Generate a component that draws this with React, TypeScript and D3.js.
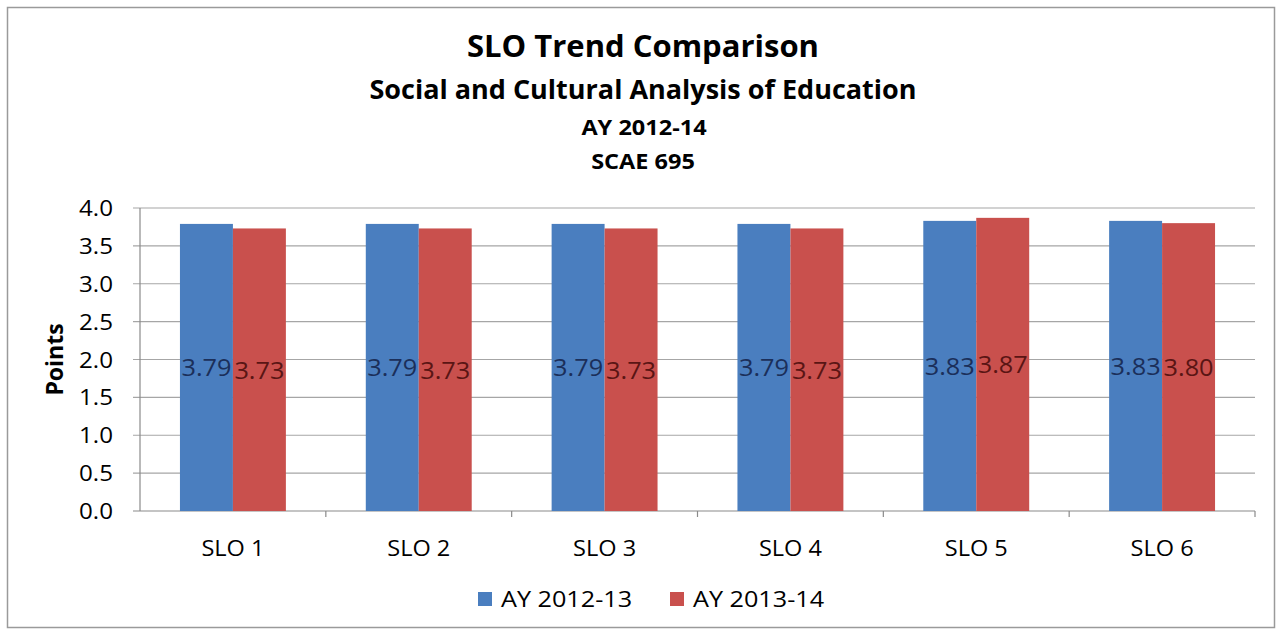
import React from 'react';
import * as d3 from 'd3';

const categories = ['SLO 1', 'SLO 2', 'SLO 3', 'SLO 4', 'SLO 5', 'SLO 6'];
const seriesNames = ['AY 2012-13', 'AY 2013-14'];
const values2012 = [3.79, 3.79, 3.79, 3.79, 3.83, 3.83];
const values2013 = [3.73, 3.73, 3.73, 3.73, 3.87, 3.8];
const yTicks = [0, 0.5, 1, 1.5, 2, 2.5, 3, 3.5, 4];
const titleLines = ['SLO Trend Comparison', 'Social and Cultural Analysis of Education', 'AY 2012-14', 'SCAE 695'];

const W = 1281;
const H = 635;
const FONT = '"Open Sans", "Noto Sans", sans-serif';

const COLORS = ['#4a7ebf', '#c9504d'];
const LABEL_COLORS = ['#1b2f5a', '#5a1514'];

// the reference is a little wider than tall, so text is stretched sideways a bit
function SText(props: {
  x: number;
  y: number;
  sx?: number;
  size: number;
  anchor?: 'start' | 'middle' | 'end';
  bold?: boolean;
  fill?: string;
  children: React.ReactNode;
}) {
  return (
    <text
      transform={`translate(${props.x},${props.y}) scale(${props.sx || 1},1)`}
      textAnchor={props.anchor || 'start'}
      fontSize={props.size}
      fontWeight={props.bold ? 'bold' : 'normal'}
      fill={props.fill || '#000'}
    >
      {props.children}
    </text>
  );
}

export default function App() {
  const plot = { left: 140, right: 1255, top: 208, bottom: 511 };

  const x0 = d3
    .scaleBand<string>()
    .domain(categories)
    .range([plot.left, plot.right])
    .paddingInner(0.43)
    .paddingOuter(0.215);

  const x1 = d3.scaleBand<string>().domain(seriesNames).range([0, x0.bandwidth()]).padding(0);

  const y = d3.scaleLinear().domain([0, 4]).range([plot.bottom, plot.top]);

  const step = x0.step();
  const series = [values2012, values2013];

  return (
    <div style={{ position: 'absolute', left: 0, top: 0 }}>
      <svg width={W} height={H} style={{ display: 'block', background: '#fff' }} fontFamily={FONT}>
        {/* outer frame */}
        <rect x={7.5} y={7.5} width={1267} height={620} fill="#fff" stroke="#9a9a9a" strokeWidth={1.5} />

        {/* titles */}
        <SText x={643} y={57} size={31} bold anchor="middle">
          {titleLines[0]}
        </SText>
        <SText x={643} y={99} size={27} bold anchor="middle">
          {titleLines[1]}
        </SText>
        <SText x={644} y={135} size={21} sx={1.12} bold anchor="middle">
          {titleLines[2]}
        </SText>
        <SText x={643} y={169} size={21} sx={1.12} bold anchor="middle">
          {titleLines[3]}
        </SText>

        {/* gridlines */}
        {yTicks.map(t => (
          <line
            key={t}
            x1={plot.left - 7}
            x2={plot.right}
            y1={y(t)}
            y2={y(t)}
            stroke={t === 0 ? '#8a8a8a' : '#a6a6a6'}
            strokeWidth={1.2}
          />
        ))}
        {/* y axis */}
        <line x1={plot.left} x2={plot.left} y1={plot.top} y2={plot.bottom} stroke="#8a8a8a" strokeWidth={1.2} />
        {/* x tick marks at category boundaries */}
        {categories.map((c, i) => {
          const xb = plot.left + step * (i + 1);
          return <line key={c} x1={xb} x2={xb} y1={plot.bottom} y2={plot.bottom + 6} stroke="#8a8a8a" strokeWidth={1.2} />;
        })}

        {/* y tick labels */}
        {yTicks.map(t => (
          <SText key={t} x={113} y={y(t) + 8} size={21} sx={1.15} anchor="end">
            {t.toFixed(1)}
          </SText>
        ))}

        {/* y axis title */}
        <text
          transform={`translate(63, ${(plot.top + plot.bottom) / 2}) rotate(-90)`}
          textAnchor="middle"
          fontSize={23}
          fontWeight="bold"
          fill="#000"
        >
          Points
        </text>

        {/* bars */}
        {categories.map((c, i) => (
          <g key={c} transform={`translate(${x0(c)},0)`}>
            {series.map((vals, s) => {
              const bx = x1(seriesNames[s]) || 0;
              const by = y(vals[i]);
              return (
                <g key={s}>
                  <rect x={bx} y={by} width={x1.bandwidth()} height={plot.bottom - by} fill={COLORS[s]} />
                  <SText
                    x={bx + x1.bandwidth() / 2}
                    y={(by + plot.bottom) / 2 + 9}
                    size={23}
                    sx={1.1}
                    anchor="middle"
                    fill={LABEL_COLORS[s]}
                  >
                    {vals[i].toFixed(2)}
                  </SText>
                </g>
              );
            })}
          </g>
        ))}

        {/* x labels */}
        {categories.map(c => (
          <SText key={c} x={(x0(c) || 0) + x0.bandwidth() / 2} y={556} size={22} sx={1.07} anchor="middle">
            {c}
          </SText>
        ))}

        {/* legend */}
        {seriesNames.map((n, i) => {
          const lx = 478 + i * 192;
          return (
            <g key={n}>
              <rect x={lx} y={592} width={14} height={14} fill={COLORS[i]} />
              <SText x={lx + 23} y={607} size={21} sx={1.2}>
                {n}
              </SText>
            </g>
          );
        })}
      </svg>
    </div>
  );
}
